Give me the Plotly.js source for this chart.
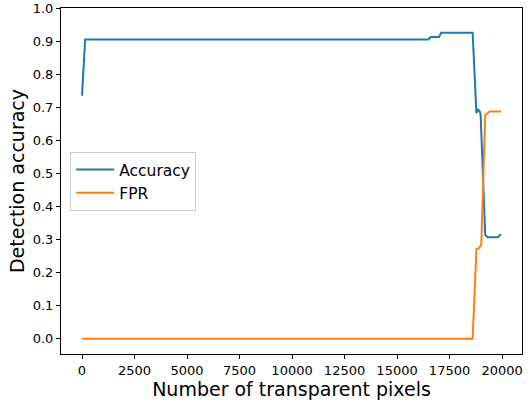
<!DOCTYPE html>
<html>
<head>
<meta charset="utf-8">
<script src="https://cdn.plot.ly/plotly-3.0.1.min.js"></script>
<style>html,body{margin:0;padding:0;background:#fff;}#chart{width:529px;height:404px;}</style>
</head>
<body>
<div id="chart"></div>
<script>
// Data
const accX = [0, 150, 16500, 16600, 17000, 17100, 18600, 18650, 18780, 18850, 18940, 18980, 19200, 19320, 19800, 19950];
const accY = [0.735, 0.905, 0.905, 0.912, 0.912, 0.925, 0.925, 0.86, 0.682, 0.694, 0.687, 0.677, 0.314, 0.307, 0.307, 0.316];
const fprX = [0, 18600, 18780, 18900, 19010, 19200, 19290, 19400, 19950];
const fprY = [0, 0, 0.271, 0.274, 0.284, 0.677, 0.680, 0.687, 0.687];
const seriesNames = ["Accuracy", "FPR"];
const xTicks = [0, 2500, 5000, 7500, 10000, 12500, 15000, 17500, 20000];
const yTicks = [0.0, 0.1, 0.2, 0.3, 0.4, 0.5, 0.6, 0.7, 0.8, 0.9, 1.0];

const font = "DejaVu Sans, sans-serif";
const traces = [
  {x: accX, y: accY, mode: "lines", name: seriesNames[0], line: {color: "#1f77b4", width: 2}},
  {x: fprX, y: fprY, mode: "lines", name: seriesNames[1], line: {color: "#ff7f0e", width: 2}}
];
const axisCommon = {
  showline: true, mirror: true, linecolor: "#000", linewidth: 1,
  ticks: "outside", ticklen: 4, tickwidth: 1, tickcolor: "#000",
  showgrid: false, zeroline: false,
  tickfont: {family: font, size: 13, color: "#000"}
};
const layout = {
  width: 529, height: 404,
  margin: {l: 61, r: 7, t: 8, b: 50},
  paper_bgcolor: "#fff", plot_bgcolor: "#fff",
  font: {family: font, color: "#000"},
  xaxis: Object.assign({}, axisCommon, {
    range: [-1000, 20950], tickmode: "array", tickvals: xTicks,
    ticktext: xTicks.map(String),
    title: {text: "Number of transparent pixels", font: {family: font, size: 19, color: "#000"}, standoff: 6}
  }),
  yaxis: Object.assign({}, axisCommon, {
    range: [-0.046, 1.0], tickmode: "array", tickvals: yTicks,
    ticktext: yTicks.map(v => v.toFixed(1)),
    title: {text: "Detection accuracy", font: {family: font, size: 19, color: "#000"}, standoff: 3}
  }),
  showlegend: true,
  legend: {
    x: 0.02, y: 0.584, xanchor: "left", yanchor: "top",
    bgcolor: "rgba(255,255,255,0.8)", bordercolor: "#cccccc", borderwidth: 1,
    font: {family: font, size: 15.5, color: "#000"},
    itemwidth: 38, tracegroupgap: 0
  }
};
Plotly.newPlot("chart", traces, layout, {staticPlot: true, displayModeBar: false});
</script>
</body>
</html>
